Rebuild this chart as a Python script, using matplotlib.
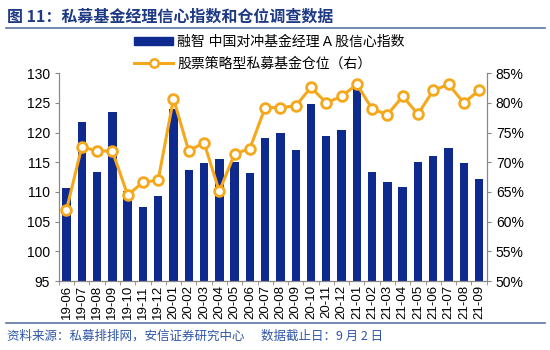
import numpy as np
import matplotlib.pyplot as plt
from matplotlib.lines import Line2D
from matplotlib.patches import Patch
from matplotlib.ticker import FuncFormatter

plt.rcParams['font.family'] = ['Liberation Sans', 'Noto Sans CJK SC', 'DejaVu Sans']

months = ['19-06', '19-07', '19-08', '19-09', '19-10', '19-11', '19-12',
          '20-01', '20-02', '20-03', '20-04', '20-05', '20-06', '20-07',
          '20-08', '20-09', '20-10', '20-11', '20-12', '21-01', '21-02',
          '21-03', '21-04', '21-05', '21-06', '21-07', '21-08', '21-09']
confidence = [110.6, 121.8, 113.3, 123.5, 110.2, 107.5, 109.4,
              123.9, 113.7, 114.9, 115.6, 115.0, 113.2, 119.1,
              120.0, 117.1, 124.8, 119.5, 120.5, 127.3, 113.3,
              111.7, 110.8, 115.1, 116.0, 117.4, 114.9, 112.1]
position = [62.0, 72.6, 71.9, 71.9, 64.5, 66.6, 67.0,
            80.7, 71.9, 73.3, 65.1, 71.4, 72.3, 79.2,
            79.2, 79.5, 82.6, 80.0, 81.1, 83.1, 79.0,
            78.0, 81.1, 78.1, 82.1, 83.1, 80.0, 82.1]

bar_label = '融智 中国对冲基金经理 A 股信心指数'
line_label = '股票策略型私募基金仓位（右）'

navy = '#0F2A8E'
orange = '#F5A81C'
blue_text = '#1F3A85'

fig = plt.figure(figsize=(5.5, 3.5), dpi=100)
ax = fig.add_axes([0.107, 0.197, 0.778, 0.594])
ax2 = ax.twinx()

x = np.arange(len(months))
ax.bar(x, confidence, width=0.55, color=navy, zorder=2)
ax2.plot(x, position, color=orange, lw=2.2, marker='o', ms=7,
         mfc='white', mec=orange, mew=2, zorder=3)

ax.set_xlim(-0.5, len(months) - 0.5)
ax.set_ylim(95, 130)
ax.set_yticks(np.arange(95, 131, 5))
ax2.set_ylim(50, 85)
ax2.set_yticks(np.arange(50, 86, 5))
ax2.yaxis.set_major_formatter(FuncFormatter(lambda v, p: f'{v:.0f}%'))

ax.set_xticks(x)
ax.set_xticklabels(months, rotation=90, fontsize=9.5)
ax.set_xticks(np.arange(-0.5, len(months), 1), minor=True)
ax.tick_params(axis='x', which='major', length=0, pad=3)
ax.tick_params(axis='x', which='minor', length=3, color='#888888')
ax.tick_params(axis='y', labelsize=10, length=3, color='#888888')
ax2.tick_params(axis='y', labelsize=10, length=3, color='#888888')

for a in (ax, ax2):
    a.spines['top'].set_visible(False)
    for s in ('left', 'right', 'bottom'):
        a.spines[s].set_color('#888888')
        a.spines[s].set_linewidth(0.8)

handles = [Patch(color=navy),
           Line2D([], [], color=orange, lw=2.2, marker='o', ms=6,
                  mfc='white', mec=orange, mew=1.8)]
fig.legend(handles, [bar_label, line_label], loc='center',
           bbox_to_anchor=(0.49, 0.85), frameon=False, fontsize=10,
           handlelength=2.8, handleheight=0.5, handletextpad=0.3,
           labelspacing=0.55, borderpad=0)

fig.text(0.012, 0.952, '图 11：私募基金经理信心指数和仓位调查数据',
         fontsize=11.5, fontweight='bold', color=blue_text,
         family=['Noto Sans CJK SC'], va='center')
fig.add_artist(Line2D([0.01, 0.99], [0.92, 0.92], color='#5A74A8', lw=1.2))
fig.add_artist(Line2D([0.01, 0.99], [0.077, 0.077], color='#5A74A8', lw=1.2))
fig.text(0.012, 0.04, '资料来源：私募排排网，安信证券研究中心      数据截止日：9 月 2 日',
         fontsize=9, color='#2F56A6', style='italic',
         family=['Noto Sans CJK SC'], va='center')

fig.savefig('out.png', dpi=100)
